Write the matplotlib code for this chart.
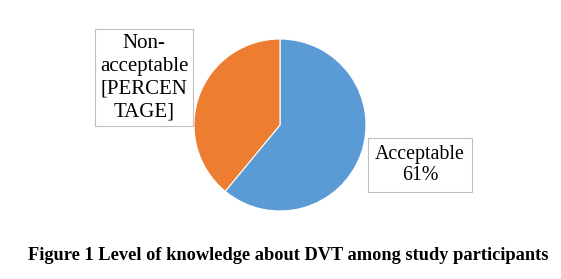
import matplotlib.pyplot as plt

labels = ["Acceptable", "Non-acceptable"]
values = [61, 39]
colors = ["#5B9BD5", "#ED7D31"]
label_texts = ["Acceptable\n61%", "Non-\nacceptable\n[PERCEN\nTAGE]"]
caption = "Figure 1 Level of knowledge about DVT among study participants"

W, H = 561, 279
fig = plt.figure(figsize=(W / 100, H / 100), dpi=100)

# pie axes placed in pixel terms
cx, cy, r = 280, 125, 86
ax = fig.add_axes([(cx - r) / W, (H - cy - r) / H, 2 * r / W, 2 * r / H])
ax.pie(values, colors=colors, startangle=90, counterclock=False,
       wedgeprops=dict(edgecolor="white", linewidth=0.8))
ax.set_xlim(-1, 1)
ax.set_ylim(-1, 1)
ax.set_aspect("equal")

box = dict(boxstyle="square,pad=0.25", facecolor="white", edgecolor="#bfbfbf", linewidth=0.8)
fig.text(144 / W, 1 - 77.5 / H, label_texts[1], ha="center", va="center",
         family="Liberation Serif", fontsize=15, linespacing=1.27, bbox=box)
fig.text(420 / W, 1 - 165 / H, label_texts[0], ha="center", va="center",
         family="Liberation Serif", fontsize=14.3, linespacing=1.2,
         bbox=dict(box, boxstyle="square,pad=0.35"))

fig.text(288 / W, 1 - 255 / H, caption, ha="center", va="center",
         family="Liberation Serif", fontweight="bold", fontsize=13.2)

fig.savefig("out.png", dpi=100)
